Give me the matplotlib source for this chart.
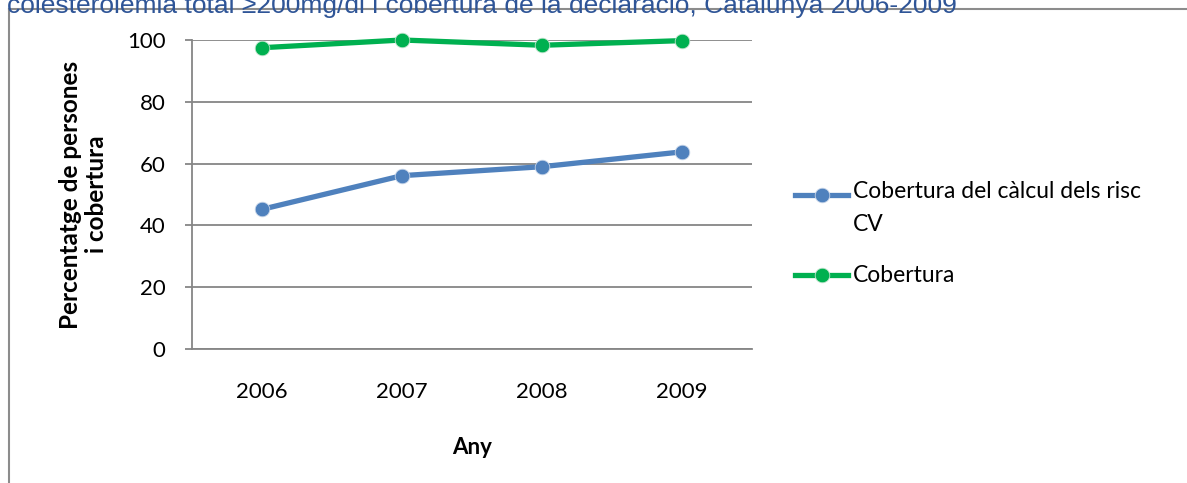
import matplotlib
matplotlib.use('Agg')
import matplotlib.pyplot as plt
from matplotlib.lines import Line2D

years = ['2006', '2007', '2008', '2009']
risc_cv = [45.2, 56.1, 59.0, 63.8]
cobertura = [97.5, 100.0, 98.3, 99.8]

label_risc = 'Cobertura del càlcul dels risc\nCV'
label_cob = 'Cobertura'
title = 'colesterolèmia total ≥200mg/dl i cobertura de la declaració, Catalunya 2006-2009'

BLUE = '#4F81BD'
GREEN = '#00B050'
GRID = '#868686'
FS = 16

plt.rcParams['font.family'] = ['Lato', 'DejaVu Sans']

W, H = 1187, 483
fig = plt.figure(figsize=(W / 100, H / 100), dpi=100)

# outer chart frame (cut at right and bottom)
fig.add_artist(Line2D([9 / W, 9 / W], [0, 1 - 9 / H], color='#8C8C8C', lw=1.5))
fig.add_artist(Line2D([9 / W, 1], [1 - 9 / H, 1 - 9 / H], color='#8C8C8C', lw=1.5))

# title sits above the frame, partly cut off by the page edge
fig.text(7 / W, 1 - 6 / H, title, fontsize=19, color='#2F5597',
         family='Liberation Sans', va='center', ha='left')

ax = fig.add_axes([192 / W, 1 - 349 / H, (752 - 192) / W, (349 - 40) / H])
x = range(len(years))
ax.plot(x, risc_cv, color=BLUE, lw=3.8, marker='o', ms=10.5,
        markeredgecolor='#C6D4E8', markeredgewidth=0.6, clip_on=False)
ax.plot(x, cobertura, color=GREEN, lw=3.8, marker='o', ms=10.5,
        markeredgecolor='#BFE3CC', markeredgewidth=0.6, clip_on=False, zorder=3)

ax.set_xlim(-0.5, 3.5)
ax.set_ylim(0, 100)
ax.set_yticks(range(0, 101, 20))
ax.set_xticks(list(x))
ax.set_xticklabels(years)
ax.yaxis.grid(True, color=GRID, lw=1.3)
ax.set_axisbelow(True)
for side in ('top', 'right'):
    ax.spines[side].set_visible(False)
for side in ('left', 'bottom'):
    ax.spines[side].set_color(GRID)
    ax.spines[side].set_linewidth(1.3)
ax.tick_params(axis='y', length=5, width=1.3, color=GRID, labelsize=FS, pad=14)
ax.tick_params(axis='x', length=0, labelsize=FS, pad=24)

ax.set_xlabel('Any', fontsize=FS, fontweight='bold', labelpad=25)
ax.set_ylabel('Percentatge de persones\ni cobertura', fontsize=17.5,
              fontweight='bold', labelpad=14, linespacing=1.15)

# legend on the right
for y_px, color, edge, text in [(195, BLUE, '#C6D4E8', label_risc),
                                (275, GREEN, '#BFE3CC', label_cob)]:
    yf = 1 - y_px / H
    fig.add_artist(Line2D([795 / W, 848 / W], [yf, yf], color=color, lw=3.8))
    fig.add_artist(Line2D([821.5 / W], [yf], color=color, marker='o', ms=10.5,
                          markeredgecolor=edge, markeredgewidth=0.6))
    if '\n' in text:
        fig.text(853 / W, yf + 14 / H, text, fontsize=16.5, va='top', ha='left',
                 linespacing=1.7)
    else:
        fig.text(853 / W, yf, text, fontsize=16.5, va='center', ha='left')

fig.savefig('out.png', dpi=100)
